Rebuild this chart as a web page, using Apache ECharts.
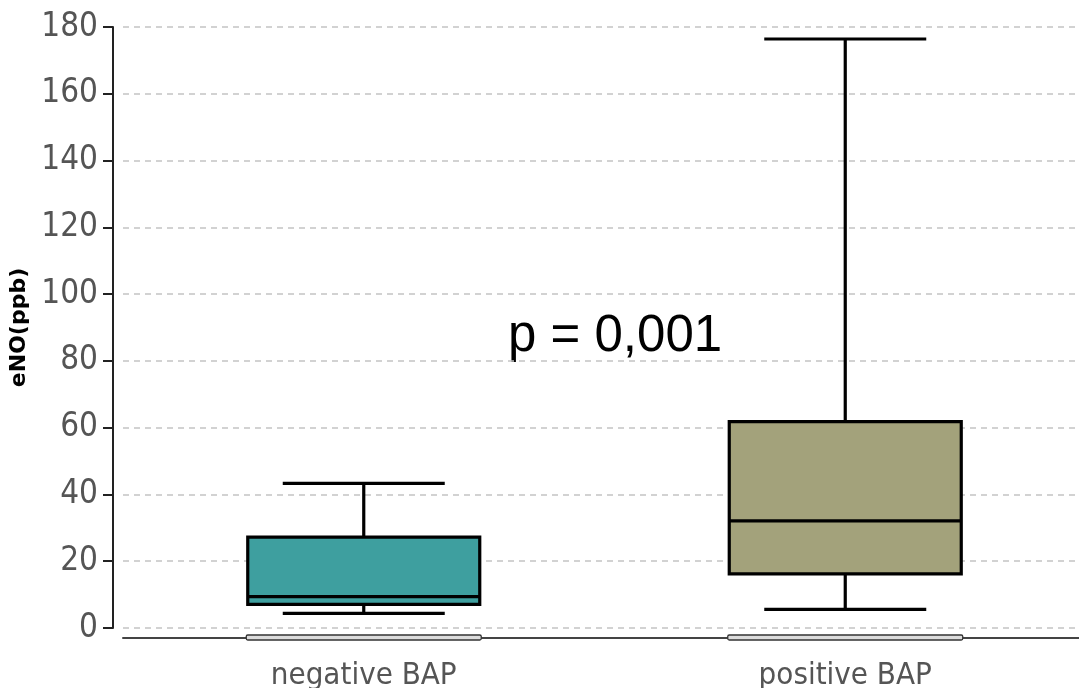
<!DOCTYPE html>
<html>
<head>
<meta charset="utf-8">
<style>
  html, body { margin: 0; padding: 0; background: #fff; }
  #chart { width: 1079px; height: 688px; }
</style>
<script src="https://cdn.jsdelivr.net/npm/echarts@6/dist/echarts.min.js"></script>
</head>
<body>
<div id="chart"></div>
<script>
// data
const categories = ["negative BAP", "positive BAP"];
const whiskerLow = [4.4, 5.6];
const quartile1 = [7.1, 16.2];
const medians = [9.4, 32.1];
const quartile3 = [27.2, 61.8];
const whiskerHigh = [43.3, 176.4];
const boxColors = ["#3e9f9f", "#a3a27b"];
const yTicks = [0, 180, 20]; // min, max, interval
const pValueText = "p = 0,001";

const narrowFont = "'Liberation Sans Narrow', 'DejaVu Sans Condensed', sans-serif";

const chart = echarts.init(document.getElementById("chart"));

const boxData = categories.map((c, i) => [i, whiskerLow[i], quartile1[i], medians[i], quartile3[i], whiskerHigh[i]]);

function renderBox(params, api) {
  const i = api.value(0);
  const low = api.coord([i, api.value(1)]);
  const q1 = api.coord([i, api.value(2)]);
  const med = api.coord([i, api.value(3)]);
  const q3 = api.coord([i, api.value(4)]);
  const high = api.coord([i, api.value(5)]);
  const cx = q1[0];
  const half = 116; // box half width
  const capHalf = 81;
  const line = { stroke: "#000", lineWidth: 3.2 };
  return {
    type: "group",
    children: [
      { type: "line", shape: { x1: cx, y1: q3[1], x2: cx, y2: high[1] }, style: line },
      { type: "line", shape: { x1: cx, y1: q1[1], x2: cx, y2: low[1] }, style: line },
      { type: "line", shape: { x1: cx - capHalf, y1: high[1], x2: cx + capHalf, y2: high[1] }, style: line },
      { type: "line", shape: { x1: cx - capHalf, y1: low[1], x2: cx + capHalf, y2: low[1] }, style: line },
      {
        type: "rect",
        shape: { x: cx - half, y: q3[1], width: half * 2, height: q1[1] - q3[1] },
        style: { fill: boxColors[i], stroke: "#000", lineWidth: 3.2 }
      },
      { type: "line", shape: { x1: cx - half, y1: med[1], x2: cx + half, y2: med[1] }, style: line }
    ]
  };
}

// the little grey bars sitting on the x axis under each box
function renderAxisBar(params, api) {
  const i = api.value(0);
  const zero = api.coord([i, 0]);
  const half = 117.5;
  return {
    type: "rect",
    shape: { x: zero[0] - half, y: zero[1] + 7, width: half * 2, height: 5, r: 1.5 },
    style: { fill: "#dcdcdc", stroke: "#333", lineWidth: 1.3 }
  };
}

chart.setOption({
  backgroundColor: "#fff",
  animation: false,
  grid: {
    left: 123,
    top: 27,
    width: 963,
    height: 601,
    outerBoundsMode: "none",
    containLabel: false
  },
  xAxis: {
    type: "category",
    data: categories,
    offset: 9.5,
    axisLine: { onZero: false, lineStyle: { color: "#444", width: 2 } },
    axisTick: { show: false },
    axisLabel: {
      margin: 23,
      color: "#555",
      fontSize: 31,
      fontFamily: narrowFont
    },
    splitLine: { show: false }
  },
  yAxis: {
    type: "value",
    min: yTicks[0],
    max: yTicks[1],
    interval: yTicks[2],
    offset: 10,
    name: "eNO(ppb)",
    nameLocation: "middle",
    nameGap: 77,
    nameTextStyle: {
      color: "#000",
      fontWeight: "bold",
      fontSize: 22,
      fontFamily: "'DejaVu Sans', sans-serif"
    },
    axisLine: { show: true, lineStyle: { color: "#222", width: 2 } },
    axisTick: { show: true, length: 10, lineStyle: { color: "#222", width: 2 } },
    axisLabel: {
      margin: 15,
      color: "#555",
      fontSize: 33,
      fontFamily: narrowFont
    },
    splitLine: {
      show: true,
      lineStyle: { color: "#c4c4c4", width: 1.5, type: [6, 5] }
    }
  },
  graphic: [
    {
      type: "text",
      left: 508,
      top: 311,
      style: {
        text: pValueText,
        fill: "#000",
        fontSize: 51,
        fontFamily: "'Liberation Sans', Arial, sans-serif"
      }
    }
  ],
  series: [
    {
      type: "custom",
      name: "axis bars",
      clip: false,
      silent: true,
      data: boxData,
      encode: { x: 0, y: [1, 2, 3, 4, 5] },
      renderItem: renderAxisBar,
      z: 3
    },
    {
      type: "custom",
      name: "eNO",
      clip: false,
      data: boxData,
      encode: { x: 0, y: [1, 2, 3, 4, 5] },
      renderItem: renderBox,
      z: 4
    }
  ]
});
</script>
</body>
</html>
